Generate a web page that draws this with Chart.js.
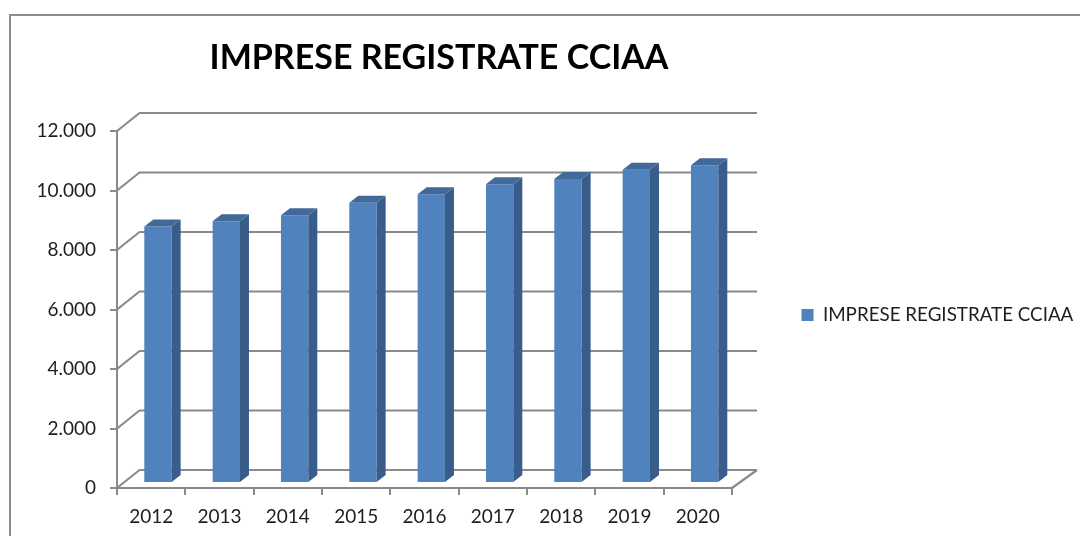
<!DOCTYPE html>
<html>
<head>
<meta charset="utf-8">
<script src="https://cdn.jsdelivr.net/npm/chart.js@4"></script>
<style>
html,body{margin:0;padding:0;background:#fff;}
#wrap{width:1080px;height:536px;overflow:hidden;}
canvas{display:block;filter:blur(0.45px);}
</style>
</head>
<body>
<div id="wrap"><canvas id="c" width="1080" height="536"></canvas></div>
<script>
const categories = ['2012','2013','2014','2015','2016','2017','2018','2019','2020'];
const seriesValues = [8620,8800,9000,9420,9710,10040,10220,10530,10680];
const yTickLabels = ['0','2.000','4.000','6.000','8.000','10.000','12.000'];
const seriesName = 'IMPRESE REGISTRATE CCIAA';

const GRID = '#8a8a8a', FRONT = '#5082be', SIDE = '#385d8a', TOP = '#41699a', TEXT = '#1e1e1e';
const WALL = {dx:22.5, dy:-18};   // depth of the floor
const BAR = {dx:9, dy:-7, ox:6.8, oy:-5}; // depth of a bar and its place on the floor

const depth3d = {
  id:'depth3d',
  afterLayout(chart){
    const t = chart.titleBlock; t.left = 0; t.right = 878;
    const l = chart.legend; l.left = 791.5; l.right = 1080; l.top = 289; l.bottom = 341;
  },
  beforeDraw(chart){
    const c = chart.ctx;
    c.save();
    c.fillStyle = '#fff'; c.fillRect(0,0,chart.width,chart.height);
    c.strokeStyle = '#8c8c8c'; c.lineWidth = 2;
    c.beginPath(); c.moveTo(10,536); c.lineTo(10,15); c.lineTo(1080,15); c.stroke();
    c.restore();
  },
  beforeDatasetsDraw(chart){
    const c = chart.ctx, a = chart.chartArea, y = chart.scales.y;
    c.save();
    c.strokeStyle = GRID; c.lineWidth = 2.2; c.lineJoin = 'round';
    y.ticks.forEach(t=>{
      const p = y.getPixelForValue(t.value);
      c.beginPath();
      c.moveTo(a.left,p); c.lineTo(a.left+WALL.dx,p+WALL.dy); c.lineTo(a.right+WALL.dx+2.5,p+WALL.dy);
      c.stroke();
    });
    c.beginPath();
    c.moveTo(a.right,a.bottom); c.lineTo(a.right+WALL.dx+2.5,a.bottom+WALL.dy);
    c.stroke();
    c.restore();
  },
  beforeDatasetDraw(chart){
    chart.ctx.save();
    chart.ctx.translate(BAR.ox,BAR.oy);
  },
  afterDatasetDraw(chart,args){
    const c = chart.ctx;
    args.meta.data.forEach(el=>{
      const l = el.x-el.width/2, r = el.x+el.width/2;
      c.fillStyle = SIDE;
      c.beginPath();
      c.moveTo(r,el.y); c.lineTo(r+BAR.dx,el.y+BAR.dy); c.lineTo(r+BAR.dx,el.base+BAR.dy); c.lineTo(r,el.base);
      c.closePath(); c.fill();
      c.fillStyle = TOP;
      c.beginPath();
      c.moveTo(l,el.y); c.lineTo(l+BAR.dx,el.y+BAR.dy); c.lineTo(r+BAR.dx,el.y+BAR.dy); c.lineTo(r,el.y);
      c.closePath(); c.fill();
    });
    c.restore();
  }
};

new Chart(document.getElementById('c'),{
  type:'bar',
  data:{labels:categories,datasets:[{label:seriesName,data:seriesValues,backgroundColor:FRONT,borderWidth:0,barPercentage:0.4,categoryPercentage:1}]},
  plugins:[depth3d],
  options:{
    responsive:false,animation:false,
    layout:{padding:{left:0,right:348,top:0,bottom:0}},
    plugins:{
      tooltip:{enabled:false},
      title:{display:true,text:seriesName,color:'#000',font:{family:'Lato',size:34,weight:'bold',lineHeight:1.2},padding:{top:37.5,bottom:52.7}},
      legend:{display:true,position:'chartArea',labels:{color:TEXT,font:{family:'Lato',size:18.8},boxWidth:12,boxHeight:12,padding:10}}
    },
    scales:{
      x:{
        afterFit(s){s.height=48;},
        grid:{display:true,drawOnChartArea:false,drawTicks:true,tickLength:7,color:GRID,lineWidth:2},
        border:{display:true,color:GRID,width:2},
        ticks:{color:TEXT,font:{family:'Lato',size:19},padding:10,maxRotation:0,autoSkip:false}
      },
      y:{
        min:0,max:12000,
        afterFit(s){s.width=117;},
        grid:{display:true,drawOnChartArea:false,drawTicks:true,tickLength:7,color:GRID,lineWidth:2},
        border:{display:true,color:GRID,width:2},
        ticks:{stepSize:2000,color:TEXT,font:{family:'Lato',size:19},padding:14,callback:(v)=>yTickLabels[v/2000]}
      }
    }
  }
});
</script>
</body>
</html>
